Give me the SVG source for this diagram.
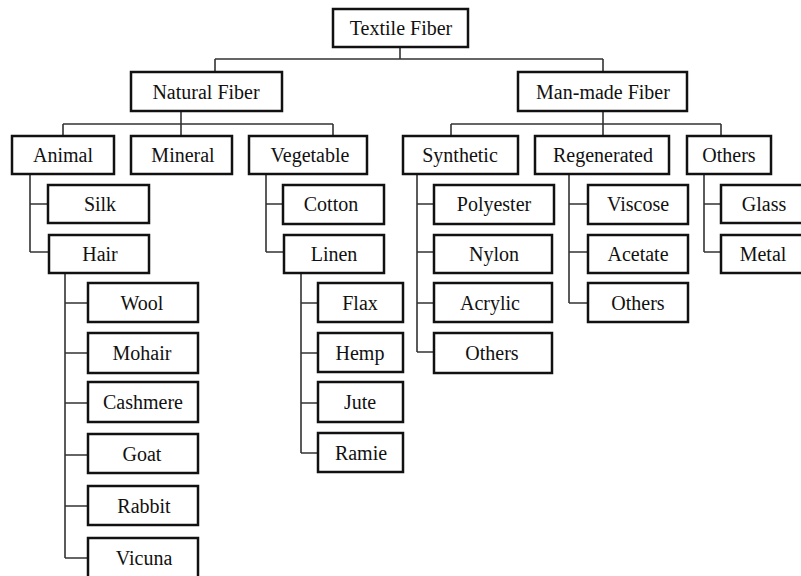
<svg xmlns="http://www.w3.org/2000/svg" width="801" height="576" viewBox="0 0 801 576">
<style>
rect{fill:#fff;stroke:#111;stroke-width:2.5}
text{font-family:"Liberation Serif","Times New Roman",serif;font-size:20px;fill:#111;text-anchor:middle}
#connectors path{fill:none;stroke:#333;stroke-width:1.6}
</style>
<rect x="0" y="0" width="801" height="576" style="stroke:none;fill:#fff"/>
<g id="connectors">
<path d="M400,47V59M215,59H603M215,59V72M603,59V72"/>
<path d="M181,111V136M63,124H333M63,124V136M333,124V136"/>
<path d="M603,111V136M451,124H721M451,124V136M721,124V136"/>
<path d="M30,174V252M30,204H48M30,252H49"/>
<path d="M65,273V558M65,303H88M65,353H88M65,403H88M65,455H88M65,506H88M65,558H88"/>
<path d="M266,174V252M266,204H283M266,252H284"/>
<path d="M301,273V453M301,303H318M301,353H318M301,403H318M301,453H318"/>
<path d="M417,174V352M417,204H434M417,252H434M417,303H434M417,352H434"/>
<path d="M569,174V303M569,204H588M569,252H588M569,303H588"/>
<path d="M704,174V252M704,204H721M704,252H721"/>
</g>
<g id="textile"><rect x="333" y="9" width="135" height="38"/><text x="401" y="35">Textile Fiber</text></g>
<g id="natural"><rect x="131" y="72" width="151" height="39"/><text x="206" y="99">Natural Fiber</text></g>
<g id="manmade"><rect x="518" y="72" width="169" height="39"/><text x="603" y="99">Man-made Fiber</text></g>
<g id="animal"><rect x="12" y="136" width="102" height="38"/><text x="63" y="162">Animal</text></g>
<g id="mineral"><rect x="131" y="136" width="101" height="38"/><text x="183" y="162">Mineral</text></g>
<g id="vegetable"><rect x="249" y="136" width="118" height="38"/><text x="310" y="162">Vegetable</text></g>
<g id="synthetic"><rect x="403" y="136" width="115" height="38"/><text x="460" y="162">Synthetic</text></g>
<g id="regenerated"><rect x="535" y="136" width="134" height="38"/><text x="603" y="162">Regenerated</text></g>
<g id="others-mm"><rect x="687" y="136" width="84" height="38"/><text x="729" y="162">Others</text></g>
<g id="silk"><rect x="48" y="185" width="101" height="38"/><text x="100" y="211">Silk</text></g>
<g id="hair"><rect x="49" y="235" width="100" height="38"/><text x="100" y="261">Hair</text></g>
<g id="wool"><rect x="88" y="283" width="110" height="39"/><text x="142" y="310">Wool</text></g>
<g id="mohair"><rect x="88" y="333" width="110" height="40"/><text x="142" y="360">Mohair</text></g>
<g id="cashmere"><rect x="88" y="382" width="110" height="40"/><text x="143" y="409">Cashmere</text></g>
<g id="goat"><rect x="88" y="434" width="110" height="39"/><text x="142" y="461">Goat</text></g>
<g id="rabbit"><rect x="88" y="486" width="110" height="39"/><text x="144" y="513">Rabbit</text></g>
<g id="vicuna"><rect x="88" y="538" width="110" height="40"/><text x="144" y="565">Vicuna</text></g>
<g id="cotton"><rect x="283" y="185" width="101" height="39"/><text x="331" y="211">Cotton</text></g>
<g id="linen"><rect x="284" y="235" width="100" height="38"/><text x="334" y="261">Linen</text></g>
<g id="flax"><rect x="318" y="283" width="85" height="39"/><text x="360" y="310">Flax</text></g>
<g id="hemp"><rect x="318" y="333" width="85" height="39"/><text x="360" y="360">Hemp</text></g>
<g id="jute"><rect x="318" y="382" width="85" height="40"/><text x="360" y="409">Jute</text></g>
<g id="ramie"><rect x="318" y="433" width="85" height="39"/><text x="361" y="460">Ramie</text></g>
<g id="polyester"><rect x="434" y="185" width="120" height="39"/><text x="494" y="211">Polyester</text></g>
<g id="nylon"><rect x="434" y="235" width="118" height="38"/><text x="494" y="261">Nylon</text></g>
<g id="acrylic"><rect x="434" y="283" width="118" height="39"/><text x="490" y="310">Acrylic</text></g>
<g id="others-syn"><rect x="434" y="333" width="118" height="40"/><text x="492" y="360">Others</text></g>
<g id="viscose"><rect x="588" y="185" width="100" height="39"/><text x="638" y="211">Viscose</text></g>
<g id="acetate"><rect x="588" y="235" width="100" height="38"/><text x="638" y="261">Acetate</text></g>
<g id="others-reg"><rect x="588" y="283" width="100" height="39"/><text x="638" y="310">Others</text></g>
<g id="glass"><rect x="721" y="185" width="82" height="38"/><text x="764" y="211">Glass</text></g>
<g id="metal"><rect x="721" y="235" width="82" height="38"/><text x="763" y="261">Metal</text></g>
</svg>
